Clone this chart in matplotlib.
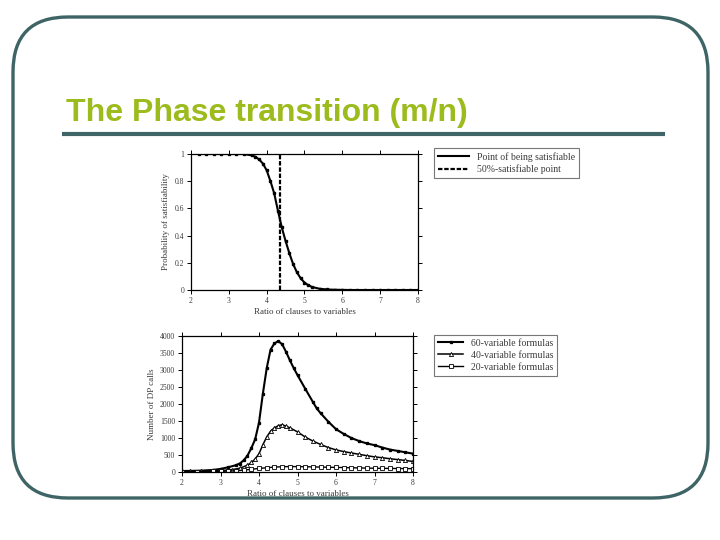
import matplotlib.pyplot as plt
import matplotlib as mpl
from matplotlib.patches import FancyBboxPatch
from matplotlib.lines import Line2D

mpl.rcParams['font.family'] = ['Liberation Serif', 'DejaVu Serif']

# --- data: probability of satisfiability ---
ratio_p = [2.2, 2.4, 2.6, 2.8, 3.0, 3.2, 3.4, 3.6, 3.7, 3.8, 3.9, 4.0, 4.1, 4.2,
           4.3, 4.4, 4.5, 4.6, 4.7, 4.8, 4.9, 5.0, 5.1, 5.2, 5.4, 5.6, 5.8, 6.0,
           6.2, 6.4, 6.6, 6.8, 7.0, 7.2, 7.4, 7.6, 7.8, 8.0]
prob_sat = [1.0, 1.0, 1.0, 1.0, 1.0, 1.0, 1.0, 0.99, 0.98, 0.96, 0.93, 0.88, 0.80, 0.71,
            0.58, 0.46, 0.36, 0.27, 0.19, 0.13, 0.085, 0.055, 0.035, 0.022, 0.009, 0.004, 0.002, 0.001,
            0.0, 0.0, 0.0, 0.0, 0.0, 0.0, 0.0, 0.0, 0.0, 0.0]
half_point = 4.35

# --- data: number of DP calls ---
ratio_60 = [2.0, 2.2, 2.5, 2.8, 3.0, 3.2, 3.4, 3.5, 3.6, 3.7, 3.8, 3.9, 4.0, 4.1, 4.2,
            4.3, 4.4, 4.5, 4.6, 4.7, 4.8, 4.9, 5.0, 5.2, 5.4, 5.5, 5.6, 5.8, 6.0,
            6.2, 6.4, 6.6, 6.8, 7.0, 7.2, 7.4, 7.6, 7.8, 8.0]
calls_60 = [30, 32, 40, 60, 90, 140, 200, 250, 340, 480, 700, 960, 1450, 2300, 3050,
            3600, 3780, 3850, 3760, 3540, 3290, 3060, 2850, 2450, 2060, 1870, 1730, 1480, 1260,
            1120, 1000, 910, 840, 790, 720, 660, 620, 580, 540]

ratio_40 = [2.0, 2.2, 2.5, 2.8, 3.0, 3.3, 3.5, 3.7, 3.8, 3.9, 4.0, 4.1, 4.2, 4.3, 4.4,
            4.5, 4.6, 4.7, 4.8, 5.0, 5.2, 5.4, 5.6, 5.8, 6.0, 6.2, 6.4, 6.6, 6.8,
            7.0, 7.2, 7.4, 7.6, 7.8, 8.0]
calls_40 = [20, 22, 25, 30, 40, 70, 110, 200, 280, 380, 540, 800, 1030, 1200, 1300,
            1360, 1390, 1350, 1300, 1180, 1030, 910, 810, 720, 650, 600, 560, 520, 480,
            445, 420, 390, 365, 340, 310]

ratio_20 = [2.0, 2.4, 2.8, 3.0, 3.2, 3.4, 3.6, 3.8, 4.0, 4.2, 4.4, 4.6, 4.8, 5.0,
            5.2, 5.4, 5.6, 5.8, 6.0, 6.2, 6.4, 6.6, 6.8, 7.0, 7.2, 7.4, 7.6, 7.8, 8.0]
calls_20 = [10, 12, 15, 20, 26, 35, 55, 80, 105, 125, 145, 155, 160, 158,
            155, 150, 145, 140, 135, 130, 125, 120, 115, 110, 108, 105, 102, 100, 98]

x_ticks = [2, 3, 4, 5, 6, 7, 8]
p_ticks = [0, 0.2, 0.4, 0.6, 0.8, 1]
p_labels = ['0', '0.2', '0.4', '0.6', '0.8', '1']
c_ticks = [0, 500, 1000, 1500, 2000, 2500, 3000, 3500, 4000]

frame_col = '#3e6465'
title_col = '#9cbb1c'
txt_col = '#3a3a3a'

W, H = 720, 540
fig = plt.figure(figsize=(7.2, 5.4), dpi=100)

# slide background in pixel coordinates
bg = fig.add_axes([0, 0, 1, 1])
bg.set_xlim(0, W)
bg.set_ylim(H, 0)
bg.axis('off')
bg.add_patch(FancyBboxPatch((13, 17), 695, 481, boxstyle='round,pad=0,rounding_size=55',
                            fill=False, edgecolor=frame_col, linewidth=2.4))
bg.text(66, 121, 'The Phase transition (m/n)', fontsize=23, fontweight='bold',
        family='Liberation Sans', color=title_col, va='baseline', ha='left')
bg.plot([62, 665], [134, 134], color=frame_col, linewidth=3, solid_capstyle='butt')


def px_axes(left, right, top, bottom):
    return fig.add_axes([left / W, 1 - bottom / H, (right - left) / W, (bottom - top) / H])


def style(ax):
    ax.tick_params(direction='out', length=3, width=0.7, labelsize=5.5,
                   top=True, right=True, colors='black', labelcolor=txt_col, pad=2)
    for s in ax.spines.values():
        s.set_linewidth(0.9)


# top: probability
ax1 = px_axes(191, 418, 154, 290)
ax1.plot(ratio_p, prob_sat, color='black', lw=1.5, marker='s', ms=1.6)
ax1.plot([half_point, half_point], [0, 1], color='black', lw=1.6, ls=(0, (2, 0.8)))
ax1.set_xlim(2, 8)
ax1.set_ylim(0, 1)
ax1.set_xticks(x_ticks)
ax1.set_yticks(p_ticks)
ax1.set_yticklabels(p_labels)
ax1.set_xlabel('Ratio of clauses to variables', fontsize=6.5, color=txt_col, labelpad=2)
ax1.set_ylabel('Probability of satisfiability', fontsize=6.5, color=txt_col, labelpad=3)
style(ax1)
h1 = [Line2D([], [], color='black', lw=1.5),
      Line2D([], [], color='black', lw=1.6, ls=(0, (2, 0.8)))]
leg1 = ax1.legend(h1, ['Point of being satisfiable', '50%-satisfiable point'],
                  loc='upper left', bbox_to_anchor=(434 / W, 1 - 148 / H),
                  bbox_transform=fig.transFigure, borderaxespad=0, fancybox=False,
                  edgecolor='#777777', fontsize=7, handlelength=3.2, labelspacing=0.3,
                  borderpad=0.4, framealpha=1)
leg1.get_frame().set_linewidth(0.8)
for t in leg1.get_texts():
    t.set_color(txt_col)

# bottom: DP calls
ax2 = px_axes(182, 413, 336, 472)
ax2.plot(ratio_60, calls_60, color='black', lw=1.5, marker='s', ms=1.4)
ax2.plot(ratio_40, calls_40, color='black', lw=1.1, marker='^', ms=3,
         markerfacecolor='white', markeredgewidth=0.6)
ax2.plot(ratio_20, calls_20, color='black', lw=1.0, marker='s', ms=2.6,
         markerfacecolor='white', markeredgewidth=0.6)
ax2.set_xlim(2, 8)
ax2.set_ylim(0, 4000)
ax2.set_xticks(x_ticks)
ax2.set_yticks(c_ticks)
ax2.set_xlabel('Ratio of clauses to variables', fontsize=6.5, color=txt_col, labelpad=2)
ax2.set_ylabel('Number of DP calls', fontsize=6.5, color=txt_col, labelpad=3)
style(ax2)
h2 = [Line2D([], [], color='black', lw=1.5, marker='s', ms=1.4),
      Line2D([], [], color='black', lw=1.1, marker='^', ms=3, markerfacecolor='white', markeredgewidth=0.6),
      Line2D([], [], color='black', lw=1.0, marker='s', ms=2.6, markerfacecolor='white', markeredgewidth=0.6)]
leg2 = ax2.legend(h2, ['60-variable formulas', '40-variable formulas', '20-variable formulas'],
                  loc='upper left', bbox_to_anchor=(434 / W, 1 - 335 / H),
                  bbox_transform=fig.transFigure, borderaxespad=0, fancybox=False,
                  edgecolor='#777777', fontsize=7, handlelength=2.6, labelspacing=0.3,
                  borderpad=0.4, markerscale=1, framealpha=1)
leg2.get_frame().set_linewidth(0.8)
for t in leg2.get_texts():
    t.set_color(txt_col)

fig.savefig('out.png', dpi=100)
